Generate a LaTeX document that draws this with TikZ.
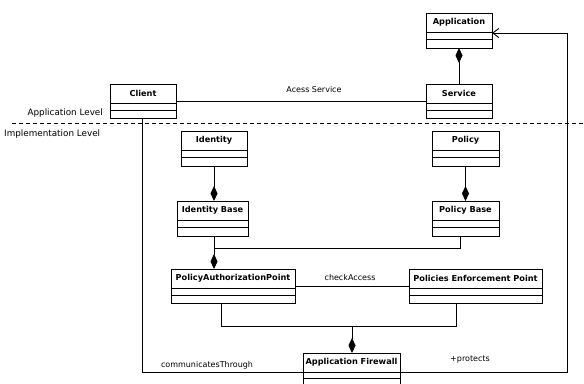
\documentclass[tikz,border=0pt]{standalone}
\usepackage{fontspec}
\setmainfont{DejaVu Sans}
\usetikzlibrary{arrows.meta}
\tikzset{
  classbox/.style={draw, line width=0.9bp, inner sep=0pt, outer sep=0pt, rectangle},
  titletext/.style={font=\bfseries\fontsize{8.2bp}{9bp}\selectfont, inner sep=0pt},
  lbl/.style={font=\fontsize{8bp}{9bp}\selectfont, inner sep=0pt},
  lvl/.style={font=\fontsize{8.8bp}{10bp}\selectfont, inner sep=0pt},
  conn/.style={line width=0.9bp},
  comp/.style={conn, -{Diamond[length=15bp,width=7bp]}},
  nav/.style={conn, -{Straight Barb[length=6bp,width=9bp,line width=0.9bp]}},
}
\newcommand\umlclass[7]{% name, xl, yt, xr, yb, title, second-line offset
  \node[classbox, minimum width={(#4-#2)*1bp}, minimum height={(#5-#3)*1bp}] (#1) at ({(#2+#4)/2},{(#3+#5)/2}) {};
  \node[titletext] (#1-t) at ({(#2+#4)/2},{#3+9.7}) {#6};
  \draw[line width=0.9bp] ({#2},{#3+19}) -- ({#4},{#3+19});
  \draw[line width=0.9bp] ({#2},{#3+#7}) -- ({#4},{#3+#7});
}
\begin{document}
\begin{tikzpicture}[x=1bp,y=-1bp]
\clip (0,0) rectangle (584,383);
\fill[white] (0,0) rectangle (584,383);

\umlclass{app}{426}{13}{492}{48}{Application}{26.5}
\umlclass{service}{426}{84}{492}{118}{Service}{26.5}
\umlclass{client}{110}{84}{176}{118}{Client}{26.5}
\umlclass{identity}{181}{131}{247}{166}{Identity}{26.5}
\umlclass{ib}{177}{201}{248}{236}{Identity Base}{26.5}
\umlclass{policy}{432}{131}{499}{166}{Policy}{26.5}
\umlclass{pb}{432}{201}{499}{236}{Policy Base}{26.5}
\umlclass{pap}{171}{269}{295}{303}{PolicyAuthorizationPoint}{26.5}
\umlclass{pep}{409}{269}{542}{303}{Policies Enforcement Point}{26.5}
\umlclass{af}{303}{353}{400}{391}{Application Firewall}{25}

% level separator
\node[lvl, anchor=east] (applevel) at (103,113) {Application Level};
\node[lvl, anchor=west] (implevel) at (4,134) {Implementation Level};
\coordinate (sepl) at (12,123);
\coordinate (sepr) at (584,123);
\draw[line width=0.8bp, dash pattern=on 4bp off 3bp] (sepl) -- (sepr);

% Application <>-- Service
\draw[comp] (service.north) -- (app.south);
% Client -- Service
\draw[conn] (client.east) -- (service.west);
\node[lbl] (acess) at (314,90) {Acess Service};

% Identity -- Identity Base
\draw[comp] (identity.south) -- (identity.south |- ib.north);
% Policy -- Policy Base
\draw[comp] (policy.south) -- (policy.south |- pb.north);

% bases to PAP
\coordinate (ibout) at (214,236);
\coordinate (pbout) at (460,236);
\coordinate (j1) at (214,248);
\draw[conn] (pbout) |- (j1);
\draw[comp] (ibout) -- (ibout |- pap.north);

% PAP -- PEP
\draw[conn] (pap.east) -- (pep.west);
\node[lbl] (check) at (350,278) {checkAccess};

% PAP, PEP to firewall
\coordinate (papout) at (221,303);
\coordinate (pepout) at (456,303);
\coordinate (j2) at (352,326);
\draw[conn] (papout) |- (j2) -| (pepout);
\draw[comp] (j2) -- (j2 |- af.north);

% Client -- firewall
\coordinate (clout) at (142,118);
\draw[conn] (clout) |- (af.west);
\node[lbl] (comm) at (207,365) {communicatesThrough};

% firewall -> Application
\coordinate (cr) at (567,33);
\coordinate (apptarget) at (492,33);
\draw[nav] (af.east) -| (cr) -- (apptarget);
\node[lbl] (prot) at (470,360) {+protects};
\end{tikzpicture}
\end{document}
